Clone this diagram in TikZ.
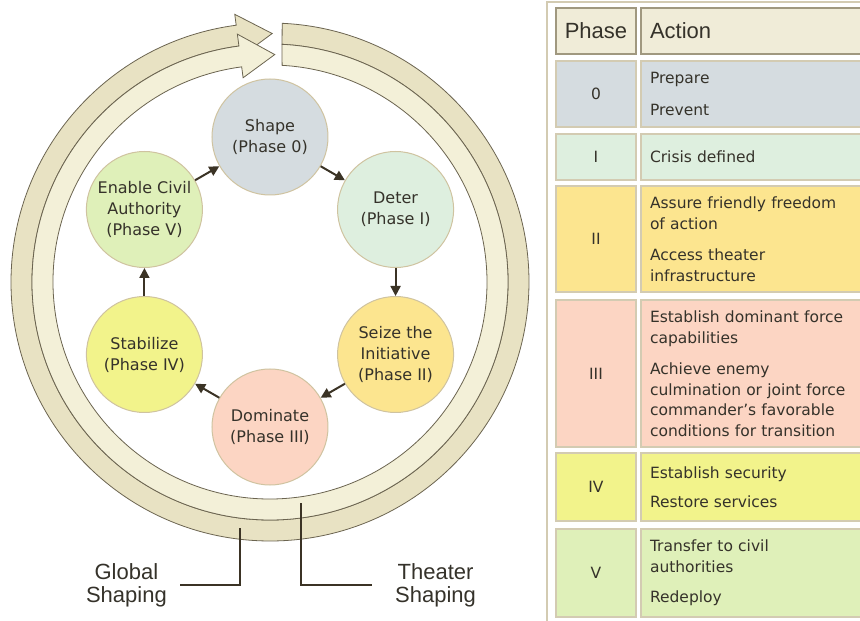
\documentclass[tikz,border=0pt]{standalone}
\usepackage{fontspec}
\setmainfont{DejaVu Sans}
\newfontfamily\headfont{Liberation Sans}
\usetikzlibrary{arrows.meta}

\definecolor{phasezero}{HTML}{D5DCE0}
\definecolor{phaseone}{HTML}{DEEFDF}
\definecolor{phasetwo}{HTML}{FCE58F}
\definecolor{phasethree}{HTML}{FCD5C3}
\definecolor{phasefour}{HTML}{F2F38B}
\definecolor{phasefive}{HTML}{DFF0B9}
\definecolor{headfill}{HTML}{F0ECD8}
\definecolor{headline}{HTML}{A0987F}
\definecolor{cellline}{HTML}{D3CBB2}
\definecolor{circleline}{HTML}{CFC3A0}
\definecolor{ringouter}{HTML}{E8E2C3}
\definecolor{ringinner}{HTML}{F3F0D8}
\definecolor{ringline}{HTML}{6B6450}
\definecolor{arrowbrown}{HTML}{3B3325}
\definecolor{darktext}{HTML}{35322A}

\begin{document}
\begin{tikzpicture}[x=1pt, y=1pt,
    phase/.style = {shape=circle, draw=circleline, line width=1pt,
      minimum size=116pt, inner sep=0pt, align=center,
      text=darktext, font=\fontsize{16}{21}\selectfont},
    flow/.style = {draw=arrowbrown, line width=2pt,
      -{Triangle[length=10pt,width=10pt]}},
    band/.style = {draw=ringline, line width=0.8pt},
    leader/.style = {align=center, text=darktext,
      font=\headfont\fontsize{22}{23}\selectfont},
    leaderline/.style = {draw=arrowbrown, line width=1.6pt},
    headcell/.style = {shape=rectangle, draw=headline, fill=headfill,
      line width=1.5pt, minimum height=46pt, text=darktext,
      font=\headfont\fontsize{22}{24}\selectfont},
    phasecell/.style = {shape=rectangle, draw=cellline, line width=1.5pt,
      minimum width=80pt, text=darktext,
      font=\fontsize{15.5}{20.5}\selectfont},
    actcell/.style = {shape=rectangle, draw=cellline, line width=1.5pt,
      text width=203pt, inner xsep=9pt, align=left, text=darktext,
      font=\fontsize{15.5}{20.5}\selectfont},
    tableframe/.style = {draw=cellline, line width=2pt}]

  \useasboundingbox (-270,-339) rectangle (590,282);
  \clip (-270,-339) rectangle (590,282);

  % shaping ring
  \fill[ringouter, band] (87.3:259) arc[start angle=87.3, end angle=-262.5, radius=259]
    -- (97.5:270) -- (89.5:248.5) -- (97.5:227) -- (97.5:238)
    arc[start angle=-262.5, end angle=87.1, radius=238] -- cycle;
  \fill[ringinner, band] (87.1:238) arc[start angle=87.1, end angle=-262.5, radius=238]
    -- (97.5:250) -- (88.8:227.5) -- (97.5:206) -- (97.5:217)
    arc[start angle=-262.5, end angle=86.8, radius=217] -- cycle;

  % phases
  \node[phase, fill=phasezero]  (shape)     at (90:145)   {Shape\\(Phase 0)};
  \node[phase, fill=phaseone]   (deter)     at (30:145)   {Deter\\(Phase I)};
  \node[phase, fill=phasetwo]   (seize)     at (-30:145)  {Seize the\\Initiative\\(Phase II)};
  \node[phase, fill=phasethree] (dominate)  at (-90:145)  {Dominate\\(Phase III)};
  \node[phase, fill=phasefour]  (stabilize) at (-150:145) {Stabilize\\(Phase IV)};
  \node[phase, fill=phasefive]  (enable)    at (150:145)  {Enable Civil\\Authority\\(Phase V)};

  \draw[flow] (shape) -- (deter);
  \draw[flow] (deter) -- (seize);
  \draw[flow] (seize) -- (dominate);
  \draw[flow] (dominate) -- (stabilize);
  \draw[flow] (stabilize) -- (enable);
  \draw[flow] (enable) -- (shape);

  % leaders
  \coordinate (global-pt) at (-30,-246);
  \coordinate (theater-pt) at (31,-221);
  \node[leader, anchor=east, inner xsep=13pt] (global) at (-90,-303) {Global\\Shaping};
  \node[leader, anchor=west, inner xsep=23pt] (theater) at (102,-303) {Theater\\Shaping};
  \draw[leaderline] (global-pt) |- (global.east);
  \draw[leaderline] (theater-pt) |- (theater.west);

  % table
  \draw[tableframe] (277,-345) -- (277,280) -- (600,280);
  \node[headcell, minimum width=80pt] (head-phase) at (326,251) {Phase};
  \node[headcell, text width=203pt, inner xsep=9pt, align=left] (head-action) at (481.5,251) {Action};

  \foreach \rowname/\phnum/\rowcol/\yc/\rowh/\acttext in {
      zero/0/phasezero/188/66/{Prepare\\[11pt]Prevent},
      one/I/phaseone/125/46/{Crisis defined},
      two/II/phasetwo/43/106/{Assure friendly freedom\\of action\\[11pt]Access theater\\infrastructure},
      three/III/phasethree/-91.5/147/{Establish dominant force\\capabilities\\[11pt]Achieve enemy\\culmination or joint force\\commander's favorable\\conditions for transition},
      four/IV/phasefour/-205/68/{Establish security\\[9pt]Restore services},
      five/V/phasefive/-291/88/{Transfer to civil\\authorities\\[10pt]Redeploy}}
  {
    \node[phasecell, fill=\rowcol, minimum height=\rowh] (num-\rowname) at (326,\yc) {\phnum};
    \node[actcell, fill=\rowcol, minimum height=\rowh] (act-\rowname) at (481.5,\yc) {\acttext};
  }
\end{tikzpicture}
\end{document}
